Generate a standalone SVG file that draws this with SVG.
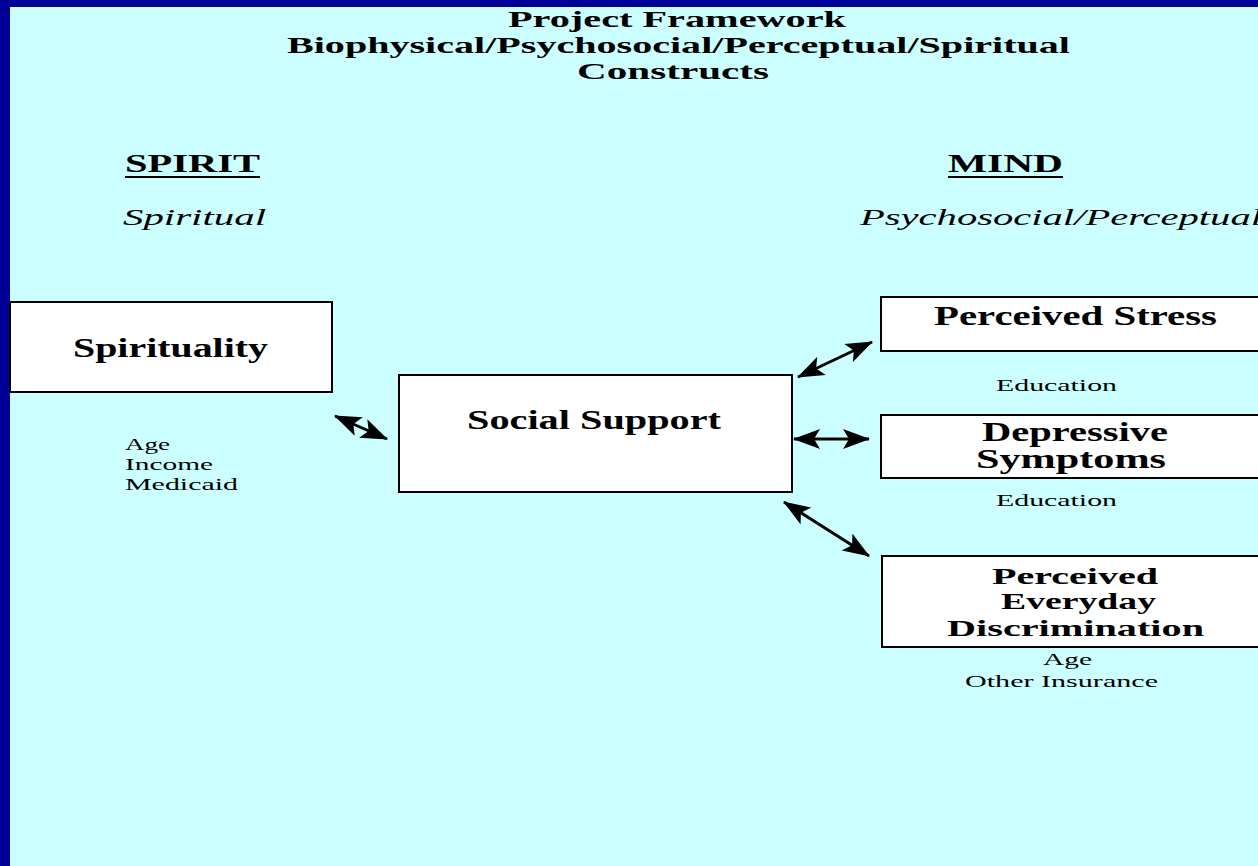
<svg xmlns="http://www.w3.org/2000/svg" width="1258" height="866" viewBox="0 0 1258 866">
<style>
text{font-family:"Liberation Serif","Times New Roman",serif;fill:#000}
.t{font-size:24px;font-weight:bold}
.h{font-size:25px;font-weight:bold}
.i{font-size:23px;font-style:italic}
.n{font-size:27px;font-weight:bold}
.m{font-size:24px;font-weight:bold}
.s{font-size:17px}
.box{fill:#fff;stroke:#000;stroke-width:2}
.arr{stroke:#000;stroke-width:3;fill:none;marker-start:url(#ah);marker-end:url(#ah)}
</style>
<defs>
<marker id="ah" markerUnits="userSpaceOnUse" markerWidth="30" markerHeight="20" refX="26" refY="10" orient="auto-start-reverse">
<path d="M0,0 L27,10 L0,20 L6,10 Z" fill="#000"/>
</marker>
</defs>
<rect x="0" y="0" width="1258" height="866" fill="#000099"/>
<rect x="10" y="7" width="1248" height="859" fill="#CCFFFF"/>
<g id="title">
<text class="t" x="508" y="27" textLength="338" lengthAdjust="spacingAndGlyphs">Project Framework</text>
<text class="t" x="287" y="53" textLength="783" lengthAdjust="spacingAndGlyphs">Biophysical/Psychosocial/Perceptual/Spiritual</text>
<text class="t" x="577" y="79" textLength="192" lengthAdjust="spacingAndGlyphs">Constructs</text>
</g>
<g id="headers">
<text class="h" x="125" y="172" textLength="135" lengthAdjust="spacingAndGlyphs">SPIRIT</text>
<rect x="125" y="176" width="135" height="2" fill="#000"/>
<text class="h" x="948" y="172" textLength="115" lengthAdjust="spacingAndGlyphs">MIND</text>
<rect x="948" y="176" width="115" height="2" fill="#000"/>
<text class="i" x="123" y="225" textLength="143" lengthAdjust="spacingAndGlyphs">Spiritual</text>
<text class="i" x="860" y="225" textLength="402" lengthAdjust="spacingAndGlyphs">Psychosocial/Perceptual</text>
</g>
<g id="connectors">
<line class="arr" x1="335" y1="416" x2="387" y2="439"/>
<line class="arr" x1="798" y1="377" x2="872" y2="342"/>
<line class="arr" x1="794" y1="439" x2="869" y2="439"/>
<line class="arr" x1="784" y1="502" x2="869" y2="556"/>
</g>
<g id="spirituality">
<rect class="box" x="10" y="302" width="322" height="90"/>
<text class="n" x="73" y="357" textLength="195" lengthAdjust="spacingAndGlyphs">Spirituality</text>
<text class="s" x="125" y="450" textLength="45" lengthAdjust="spacingAndGlyphs">Age</text>
<text class="s" x="125" y="470" textLength="88" lengthAdjust="spacingAndGlyphs">Income</text>
<text class="s" x="125" y="490" textLength="113" lengthAdjust="spacingAndGlyphs">Medicaid</text>
</g>
<g id="social-support">
<rect class="box" x="399" y="375" width="393" height="117"/>
<text class="n" x="467" y="429" textLength="254" lengthAdjust="spacingAndGlyphs">Social Support</text>
</g>
<g id="perceived-stress">
<rect class="box" x="881" y="297" width="390" height="54"/>
<text class="n" x="934" y="325" textLength="283" lengthAdjust="spacingAndGlyphs">Perceived Stress</text>
<text class="s" x="996" y="391" textLength="121" lengthAdjust="spacingAndGlyphs">Education</text>
</g>
<g id="depressive-symptoms">
<rect class="box" x="881" y="415" width="390" height="63"/>
<text class="n" x="982" y="441" textLength="186" lengthAdjust="spacingAndGlyphs">Depressive</text>
<text class="n" x="976" y="468" textLength="190" lengthAdjust="spacingAndGlyphs">Symptoms</text>
<text class="s" x="996" y="506" textLength="121" lengthAdjust="spacingAndGlyphs">Education</text>
</g>
<g id="discrimination">
<rect class="box" x="882" y="556" width="390" height="91"/>
<text class="m" x="992" y="584" textLength="166" lengthAdjust="spacingAndGlyphs">Perceived</text>
<text class="m" x="1001" y="609" textLength="155" lengthAdjust="spacingAndGlyphs">Everyday</text>
<text class="m" x="947" y="636" textLength="257" lengthAdjust="spacingAndGlyphs">Discrimination</text>
<text class="s" x="1043" y="665" textLength="49" lengthAdjust="spacingAndGlyphs">Age</text>
<text class="s" x="965" y="687" textLength="193" lengthAdjust="spacingAndGlyphs">Other Insurance</text>
</g>
</svg>
